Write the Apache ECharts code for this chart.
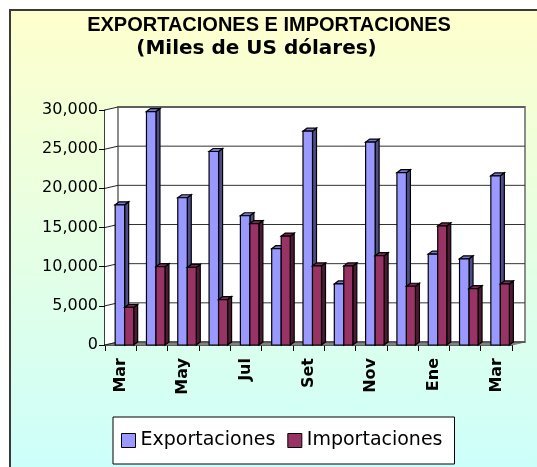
<!DOCTYPE html>
<html><head><meta charset="utf-8">
<script src="https://cdn.jsdelivr.net/npm/echarts@6/dist/echarts.min.js"></script>
<style>html,body{margin:0;padding:0;background:#fff}#c{width:537px;height:467px}</style>
</head><body><div id="c"></div>
<script>
const categories = ['Mar','Abr','May','Jun','Jul','Ago','Set','Oct','Nov','Dic','Ene','Feb','Mar'];
const exportaciones = [17900,29800,18800,24700,16500,12300,27300,7800,25900,22000,11600,11000,21600];
const importaciones = [4800,10000,9900,5800,15500,13900,10100,10100,11400,7500,15200,7200,7800];
const yTicks = [0,5000,10000,15000,20000,25000,30000];

const chart = echarts.init(document.getElementById('c'), null, {renderer:'canvas'});
const DX = 13, DY = -3;     // wall depth offset
const BDX = 4, BDY = -3;    // bar depth offset

function bounds(api){
  const band = api.size([1,0])[0];
  const first = api.coord([0,0]);
  const last = api.coord([categories.length-1,0]);
  const top = api.coord([0, yTicks[yTicks.length-1]]);
  return {L:first[0]-band/2, R:last[0]+band/2, y0:first[1], yT:top[1]};
}

function wallRender(params, api){
  const b = bounds(api);
  return {type:'group', children:[
    {type:'polygon', shape:{points:[[b.L,b.y0],[b.L+DX,b.y0+DY],[b.L+DX,b.yT+DY],[b.L,b.yT]]}, style:{fill:'#fff'}},
    {type:'rect', shape:{x:b.L+DX,y:b.yT+DY,width:b.R-b.L,height:b.y0-b.yT}, style:{fill:'#fff', stroke:'#8c8c8c', lineWidth:2}},
    {type:'polygon', shape:{points:[[b.L,b.y0],[b.L+DX,b.y0+DY],[b.R+DX,b.y0+DY],[b.R,b.y0]]}, style:{fill:'#808080', stroke:'#808080', lineWidth:1}}
  ]};
}
function gridRender(params, api){
  const b = bounds(api);
  const y = api.coord([0, api.value(1)])[1];
  return {type:'group', children:[
    {type:'line', shape:{x1:b.L,y1:y,x2:b.L+DX,y2:y+DY}, style:{stroke:'#222', lineWidth:1}},
    {type:'line', shape:{x1:b.L+DX,y1:y+DY,x2:b.R+DX,y2:y+DY}, style:{stroke:'#333', lineWidth:1}}
  ]};
}
function barRender(kind, c){
  return function(params, api){
    const i = api.value(0), v = api.value(1);
    const base = api.coord([i,0]), top = api.coord([i,v]);
    const s = api.size([1,0])[0]/31.3;
    const x0 = base[0] + (kind===0 ? -5.5 : 4)*s;
    const x1 = base[0] + (kind===0 ? 4 : 13)*s;
    const yb = base[1], yt = top[1];
    const st = {stroke:'#000', lineWidth:1.2};
    return {type:'group', children:[
      {type:'polygon', shape:{points:[[x1,yb],[x1+BDX,yb+BDY],[x1+BDX,yt+BDY],[x1,yt]]}, style:Object.assign({fill:c.side}, st)},
      {type:'polygon', shape:{points:[[x0,yt],[x0+BDX,yt+BDY],[x1+BDX,yt+BDY],[x1,yt]]}, style:Object.assign({fill:c.top}, st)},
      {type:'rect', shape:{x:x0,y:yt,width:x1-x0,height:yb-yt}, style:Object.assign({fill:c.front}, st)}
    ]};
  };
}
const expC = {front:'#9999ff', side:'#4d4d88', top:'#7777cc'};
const impC = {front:'#993366', side:'#4d1a33', top:'#7a2952'};

chart.setOption({
  backgroundColor:'#ffffff',
  animation:false,
  graphic:[
    {type:'rect', z:-100, shape:{x:10,y:10,width:560,height:500},
     style:{fill:{type:'linear',x:0,y:0,x2:0,y2:1,colorStops:[{offset:0,color:'#ffffcc'},{offset:1,color:'#c8ffff'}]}, stroke:'#3a3a3a', lineWidth:2}},
    {type:'text', z:100, x:269, y:25, style:{text:'EXPORTACIONES E IMPORTACIONES', font:'bold 20px "Liberation Sans", Arial, sans-serif', fill:'#000', textAlign:'center', textVerticalAlign:'middle'}},
    {type:'text', z:100, x:256.5, y:49, style:{text:'(Miles de US dólares)', font:'bold 20px "DejaVu Sans", sans-serif', fill:'#000', textAlign:'center', textVerticalAlign:'middle'}}
  ],
  grid:{left:105, top:110, width:407, height:235, containLabel:false},
  xAxis:{type:'category', data:categories, boundaryGap:true,
    axisLine:{show:true, lineStyle:{color:'#000', width:1.5}},
    axisTick:{show:true, interval:0, length:6, lineStyle:{color:'#000', width:1}},
    axisLabel:{interval:1, rotate:90, margin:13, color:'#000', fontFamily:'"DejaVu Sans", sans-serif', fontWeight:'bold', fontSize:16},
    splitLine:{show:false}},
  yAxis:{type:'value', min:0, max:30000, interval:5000,
    axisLine:{show:true, lineStyle:{color:'#000', width:1.5}},
    axisTick:{show:true, length:6, lineStyle:{color:'#000', width:1}},
    axisLabel:{margin:7, color:'#000', fontFamily:'"DejaVu Sans", sans-serif', fontSize:16,
      formatter:v=>v.toLocaleString('en-US')},
    splitLine:{show:false}},
  legend:{left:113, top:417, orient:'horizontal', padding:[14,12,14,8], itemGap:12,
    itemWidth:14, itemHeight:14, icon:'rect', backgroundColor:'#fff', borderColor:'#000', borderWidth:1,
    itemStyle:{borderColor:'#000', borderWidth:1},
    textStyle:{color:'#000', fontFamily:'"DejaVu Sans", sans-serif', fontSize:19},
    data:['Exportaciones','Importaciones']},
  series:[
    {type:'custom', name:'_walls', z:1, silent:true, renderItem:wallRender, data:[[0,0]]},
    {type:'custom', name:'_grid', z:1, silent:true, renderItem:gridRender, data:yTicks.map(t=>[0,t])},
    {type:'custom', name:'Exportaciones', z:3, itemStyle:{color:expC.front}, renderItem:barRender(0,expC), data:exportaciones.map((v,i)=>[i,v])},
    {type:'custom', name:'Importaciones', z:4, itemStyle:{color:impC.front}, renderItem:barRender(1,impC), data:importaciones.map((v,i)=>[i,v])}
  ]
});
</script></body></html>
